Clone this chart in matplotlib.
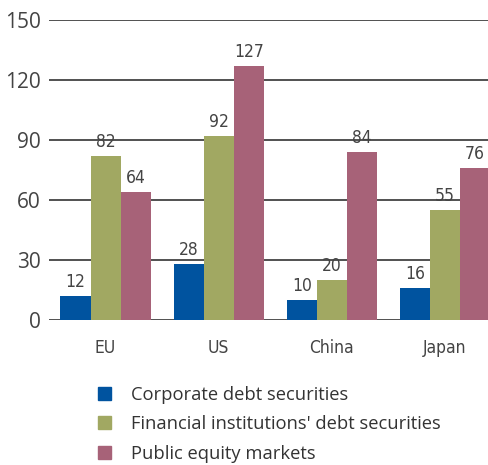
import numpy as np
import matplotlib.pyplot as plt
from matplotlib.patches import Patch

regions = ["EU", "US", "China", "Japan"]
series = ["Corporate debt securities",
          "Financial institutions' debt securities",
          "Public equity markets"]
corporate = [12, 28, 10, 16]
financial = [82, 92, 20, 55]
equity = [64, 127, 84, 76]
colors = ["#00539f", "#a1a862", "#a76278"]

num_font = dict(family=["DejaVu Sans"], stretch="condensed", color="#444444")
text_font = ["Open Sans", "DejaVu Sans"]

fig = plt.figure(figsize=(4.89, 4.65), dpi=100)
ax = fig.add_axes([0.1002, 0.3118, 0.8998, 0.6452])

x = np.arange(len(regions))
width = 0.266
for i, (vals, col) in enumerate(zip([corporate, financial, equity], colors)):
    pos = x + (i - 1) * width
    ax.bar(pos, vals, width, color=col, zorder=3)
    for px, v in zip(pos, vals):
        ax.text(px, v + 2.5, str(v), ha="center", va="bottom",
                fontsize=12.5, **num_font)

ax.set_ylim(0, 150)
ax.set_xlim(-0.5, 3.39)
ax.set_yticks(range(0, 151, 30))
for y in range(0, 151, 30):
    ax.axhline(y, color="#222222", lw=1.1, zorder=2)

ax.set_xticks(x)
ax.set_xticklabels(regions, fontsize=12.5, **num_font)
for lab in ax.get_yticklabels():
    lab.set_family(text_font)
    lab.set_fontsize(15)
    lab.set_color("#444444")
ax.tick_params(axis="both", length=0)
ax.tick_params(axis="x", pad=14)
ax.tick_params(axis="y", pad=6)
for s in ax.spines.values():
    s.set_visible(False)

handles = [Patch(color=c, label=l) for c, l in zip(colors, series)]
fig.legend(handles=handles, loc="upper left", bbox_to_anchor=(0.185, 0.186),
           frameon=False, prop={"family": text_font, "size": 13.2},
           handlelength=0.7, handleheight=0.7, handletextpad=1.1,
           labelspacing=0.62, labelcolor="#333333", borderaxespad=0)

fig.savefig("out.png", dpi=100)
